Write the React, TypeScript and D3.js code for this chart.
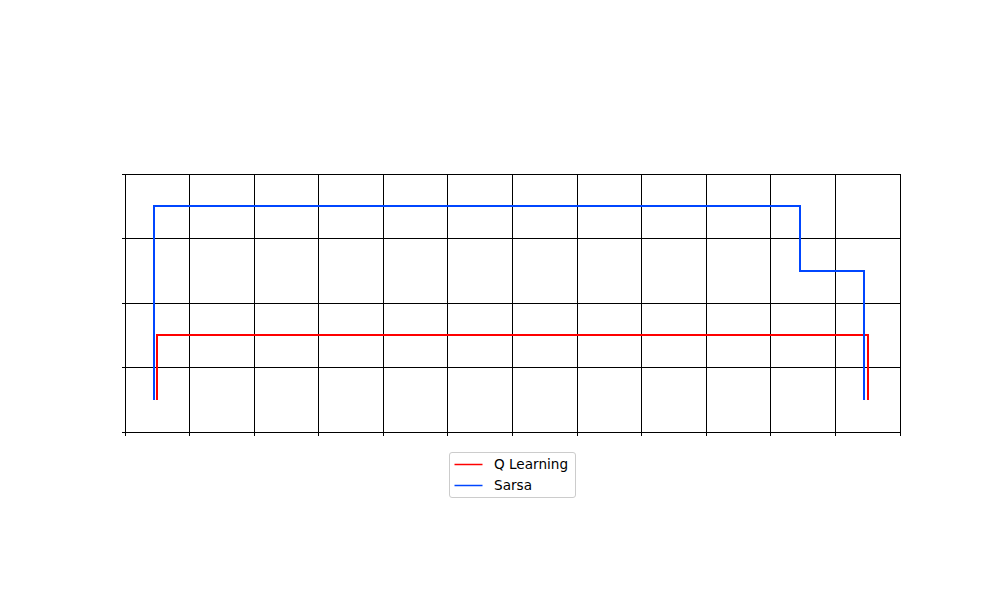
import * as d3 from "d3";

// cliff-walking grid, 12 x 4 cells
const gridCols = 12;
const gridRows = 4;

const qLearningX = [0.5, 0.5, 11.5, 11.5];
const qLearningY = [0.5, 1.5, 1.5, 0.5];
const sarsaX = [0.45, 0.45, 10.45, 10.45, 11.45, 11.45];
const sarsaY = [0.5, 3.5, 3.5, 2.5, 2.5, 0.5];

const seriesNames = ["Q Learning", "Sarsa"];
const seriesColors = ["#ff0000", "#0046ff"];

export default function App() {
  const width = 1000;
  const height = 600;
  const margin = { left: 125, right: 100, top: 174.2, bottom: 167.8 };
  const x = d3.scaleLinear().domain([0, gridCols]).range([margin.left, width - margin.right]);
  const y = d3.scaleLinear().domain([0, gridRows]).range([height - margin.bottom, margin.top]);
  const line = d3.line<[number, number]>().x((d) => x(d[0])).y((d) => y(d[1]));

  const paths = [
    qLearningX.map((v, i) => [v, qLearningY[i]] as [number, number]),
    sarsaX.map((v, i) => [v, sarsaY[i]] as [number, number]),
  ];
  const xTicks = d3.range(0, gridCols + 1);
  const yTicks = d3.range(0, gridRows + 1);

  const legendX = 449.5;
  const legendY = 452.5;

  return (
    <svg width={width} height={height} style={{ position: "fixed", left: 0, top: 0, background: "#fff" }} fontFamily="DejaVu Sans, sans-serif">
      <g shapeRendering="crispEdges">
        {xTicks.map((t) => (
          <g key={`x${t}`}>
            <line x1={x(t)} x2={x(t)} y1={y(0)} y2={y(gridRows)} stroke="#000" strokeWidth={1} />
            <line x1={x(t)} x2={x(t)} y1={y(0)} y2={y(0) + 3.5} stroke="#000" strokeWidth={1} />
          </g>
        ))}
        {yTicks.map((t) => (
          <g key={`y${t}`}>
            <line x1={x(0)} x2={x(gridCols)} y1={y(t)} y2={y(t)} stroke="#000" strokeWidth={1} />
            <line x1={x(0) - 3.5} x2={x(0)} y1={y(t)} y2={y(t)} stroke="#000" strokeWidth={1} />
          </g>
        ))}
        {paths.map((p, i) => (
          <path key={seriesNames[i]} d={line(p) ?? ""} fill="none" stroke={seriesColors[i]} strokeWidth={2} />
        ))}
      </g>
      <g transform={`translate(${legendX}, ${legendY})`}>
        <rect width={126} height={45} rx={2.5} fill="#fff" fillOpacity={0.8} stroke="#cccccc" strokeWidth={1} />
        {seriesNames.map((name, i) => (
          <g key={name} transform={`translate(0, ${12 + i * 21})`}>
            <line x1={5} x2={33} stroke={seriesColors[i]} strokeWidth={1.5} />
            <text x={44.5} y={4.6} fontSize={13.6} fill="#000">{name}</text>
          </g>
        ))}
      </g>
    </svg>
  );
}
